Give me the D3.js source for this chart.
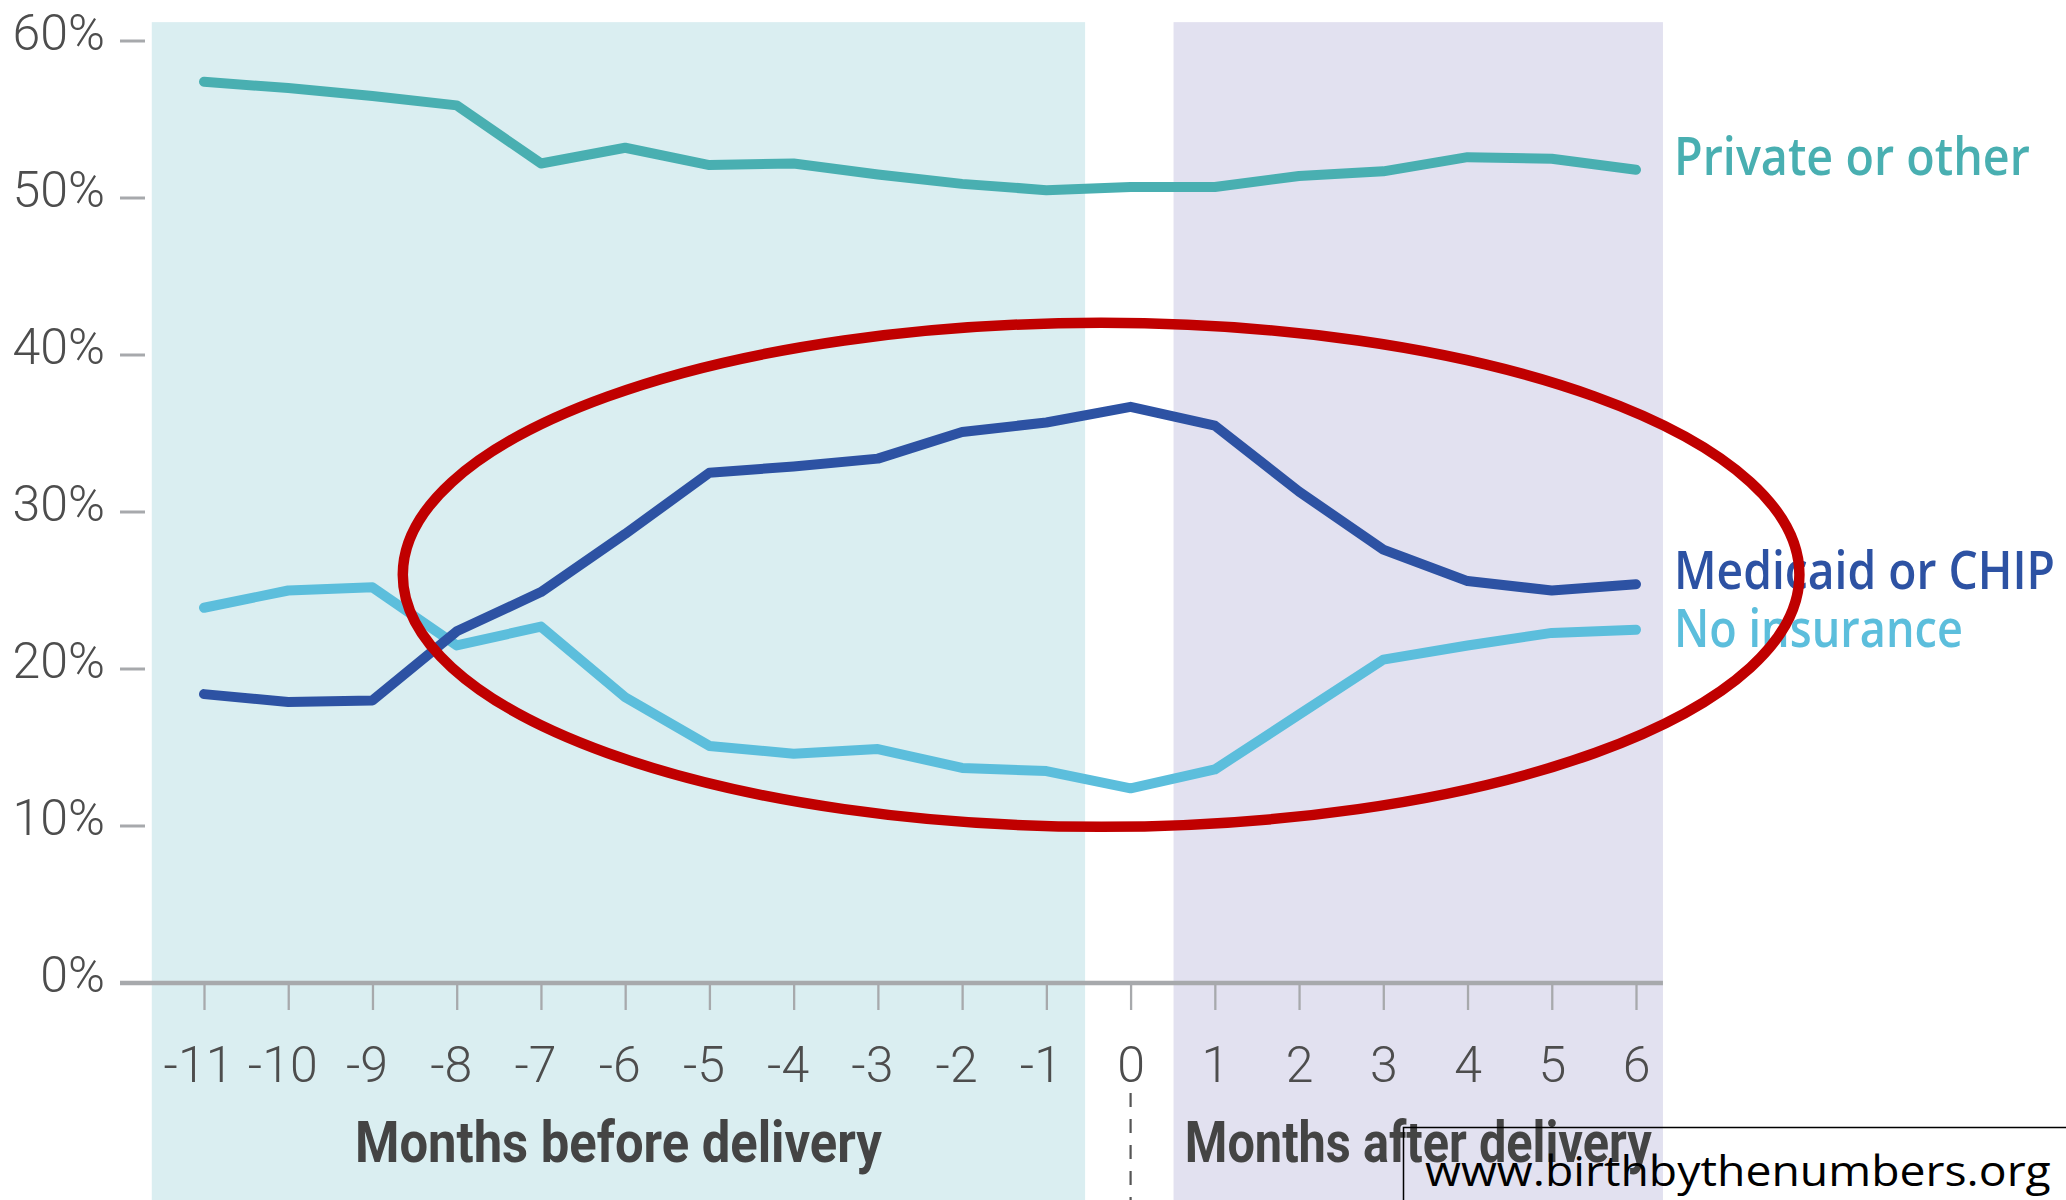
<!DOCTYPE html>
<html>
<head>
<meta charset="utf-8">
<script src="https://cdn.jsdelivr.net/npm/d3@7/dist/d3.min.js"></script>
<style>
  html, body { margin: 0; padding: 0; background: #ffffff; }
  svg { display: block; }
</style>
</head>
<body>
<svg id="chart" width="2066" height="1200"></svg>
<script>
// ---------- data ----------
const months = [-11, -10, -9, -8, -7, -6, -5, -4, -3, -2, -1, 0, 1, 2, 3, 4, 5, 6];
const privateOther = [57.4, 57.0, 56.5, 55.9, 52.2, 53.2, 52.1, 52.2, 51.5, 50.9, 50.5, 50.7, 50.7, 51.4, 51.7, 52.6, 52.5, 51.8];
const medicaidChip = [18.4, 17.9, 18.0, 22.4, 24.9, 28.6, 32.5, 32.9, 33.4, 35.1, 35.7, 36.7, 35.5, 31.3, 27.6, 25.6, 25.0, 25.4];
const noInsurance = [23.9, 25.0, 25.2, 21.5, 22.7, 18.2, 15.1, 14.6, 14.9, 13.7, 13.5, 12.4, 13.6, 17.1, 20.6, 21.5, 22.3, 22.5];
const seriesNames = ["Private or other", "No insurance", "Medicaid or CHIP"];
const yTicks = [0, 10, 20, 30, 40, 50, 60];
const xTickLabels = months.map(String);
const periodLabels = ["Months before delivery", "Months after delivery"];
const periods = [[-11.62, -0.54], [0.51, 6.32]];
const highlight = { month: -0.35, pct: 26.0, rMonths: 8.29, rPct: 16.05 };
const credit = "www.birthbythenumbers.org";

// ---------- layout ----------
const svg = d3.select("#chart");
const x = d3.scaleLinear().domain([-11, 6]).range([204, 1636]);
const y = d3.scaleLinear().domain([0, 60]).range([983, 41]);

const colors = {
  "Private or other": "#49AFB1",
  "Medicaid or CHIP": "#2D52A3",
  "No insurance": "#5CBEDC"
};
const seriesData = {
  "Private or other": privateOther,
  "Medicaid or CHIP": medicaidChip,
  "No insurance": noInsurance
};

// fit a text to a target width by horizontal scaling
function fitWidth(sel, x0, y0, target) {
  sel.each(function (d, i) {
    const el = d3.select(this);
    const w = this.getComputedTextLength();
    const tw = typeof target === "function" ? target(d, i) : target;
    const px = typeof x0 === "function" ? x0(d, i) : x0;
    const py = typeof y0 === "function" ? y0(d, i) : y0;
    el.attr("x", 0).attr("y", 0)
      .attr("transform", `translate(${px},${py}) scale(${tw / w},1)`);
  });
}

// background bands
const bandColors = ["#DAEEF1", "#E2E1F0"];
svg.selectAll("rect.band").data(periods).join("rect")
  .attr("class", "band")
  .attr("x", d => x(d[0]))
  .attr("width", d => x(d[1]) - x(d[0]))
  .attr("y", y(61.2))
  .attr("height", 1200 - y(61.2))
  .attr("fill", (d, i) => bandColors[i]);

// y axis (labels + dashes)
const yAxis = d3.axisLeft(y).tickValues(yTicks).tickSize(0).tickFormat(d => d + "%");
const gy = svg.append("g").attr("transform", "translate(105,0)").call(yAxis);
gy.select(".domain").remove();
gy.selectAll(".tick text")
  .attr("x", 0).attr("dy", 0).attr("y", 8)
  .attr("font-family", "Roboto, 'Open Sans', sans-serif")
  .attr("font-weight", 300)
  .attr("font-size", 50)
  .attr("fill", "#4D4D4D")
  .attr("text-anchor", "end");
svg.selectAll("line.ydash").data(yTicks.filter(d => d > 0)).join("line")
  .attr("class", "ydash")
  .attr("x1", 120).attr("x2", 145)
  .attr("y1", d => y(d)).attr("y2", d => y(d))
  .attr("stroke", "#A7A9AC").attr("stroke-width", 3);

// x axis
const xAxis = d3.axisBottom(x).tickValues(months).tickSize(27).tickPadding(0).tickFormat((d, i) => xTickLabels[i]);
const gx = svg.append("g").attr("transform", `translate(0,${y(0)})`).call(xAxis);
gx.select(".domain").remove();
gx.selectAll(".tick line").attr("stroke", "#A7A9AC").attr("stroke-width", 2.3);
gx.selectAll(".tick text")
  .attr("y", 99).attr("dy", 0)
  .attr("dx", d => d < 0 ? -6 : 0)
  .attr("font-family", "Roboto, 'Open Sans', sans-serif")
  .attr("font-weight", 300)
  .attr("font-size", 50)
  .attr("fill", "#4D4D4D");
svg.append("line")
  .attr("x1", 120).attr("x2", x(6.32))
  .attr("y1", y(0)).attr("y2", y(0))
  .attr("stroke", "#A7A9AC").attr("stroke-width", 4.5);

// dashed delivery marker under 0
svg.append("line")
  .attr("x1", x(0)).attr("x2", x(0))
  .attr("y1", 1093).attr("y2", 1200)
  .attr("stroke", "#555555").attr("stroke-width", 2.2)
  .attr("stroke-dasharray", "14 12");

// period titles
const titleWidths = [527, 467];
svg.selectAll("text.period").data(periodLabels).join("text")
  .attr("class", "period")
  .attr("text-anchor", "middle")
  .attr("font-family", "Roboto, 'Open Sans', sans-serif")
  .attr("font-weight", 700)
  .attr("font-size", 58)
  .attr("fill", "#444444")
  .text(d => d)
  .call(fitWidth, (d, i) => (x(periods[i][0]) + x(periods[i][1])) / 2, 1162, (d, i) => titleWidths[i]);

// lines
const line = d3.line().x((d, i) => x(months[i])).y(d => y(d));
svg.selectAll("path.series").data(seriesNames).join("path")
  .attr("class", "series")
  .attr("d", name => line(seriesData[name]))
  .attr("fill", "none")
  .attr("stroke", name => colors[name])
  .attr("stroke-width", 10)
  .attr("stroke-linecap", "round")
  .attr("stroke-linejoin", "round");

// series labels
const labelInfo = [
  { name: "Private or other", baseline: 175, width: 356 },
  { name: "Medicaid or CHIP", baseline: 589, width: 381 },
  { name: "No insurance", baseline: 647, width: 289 }
];
svg.selectAll("text.slabel").data(labelInfo).join("text")
  .attr("class", "slabel")
  .attr("font-family", "'Open Sans', Roboto, sans-serif")
  .attr("font-weight", 600)
  .attr("font-size", 53)
  .attr("fill", d => colors[d.name])
  .text(d => d.name)
  .call(fitWidth, 1674, d => d.baseline, d => d.width);

// red highlight ellipse
svg.append("ellipse")
  .attr("cx", x(highlight.month))
  .attr("cy", y(highlight.pct))
  .attr("rx", x(highlight.month + highlight.rMonths) - x(highlight.month))
  .attr("ry", y(highlight.pct - highlight.rPct) - y(highlight.pct))
  .attr("fill", "none")
  .attr("stroke", "#C00000")
  .attr("stroke-width", 10.5);

// credit box (transparent, outline only)
svg.append("rect")
  .attr("x", 1403.5).attr("y", 1127.5)
  .attr("width", 700).attr("height", 100)
  .attr("fill", "none").attr("stroke", "#000000").attr("stroke-width", 1.5);
svg.append("text")
  .attr("font-family", "'Open Sans', 'Liberation Sans', sans-serif")
  .attr("font-size", 42)
  .attr("fill", "#000000")
  .text(credit)
  .call(fitWidth, 1425, 1186, 626);
</script>
</body>
</html>
